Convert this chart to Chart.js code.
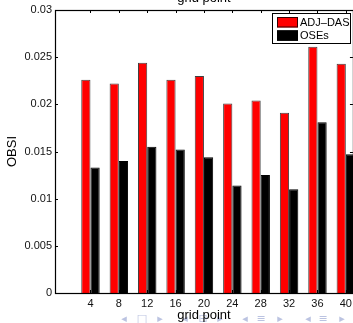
<!DOCTYPE html>
<html>
<head>
<meta charset="utf-8">
<script src="https://cdn.jsdelivr.net/npm/chart.js@4.4.0/dist/chart.umd.min.js"></script>
<style>
  html, body { margin: 0; padding: 0; background: #fff; overflow: hidden; width: 353px; height: 323px; }
  canvas { display: block; }
</style>
</head>
<body>
<canvas id="c" width="356" height="323"></canvas>
<script>
// Observation sensitivity impact per grid point
const gridPoints = [4, 8, 12, 16, 20, 24, 28, 32, 36, 40];
const adjDas = [0.0226, 0.0222, 0.0244, 0.0226, 0.0230, 0.0201, 0.0204, 0.0191, 0.0261, 0.0243];
const oses   = [0.0133, 0.0140, 0.0155, 0.0152, 0.0144, 0.0114, 0.0125, 0.0110, 0.0181, 0.0147];
const yTicks = [0, 0.005, 0.01, 0.015, 0.02, 0.025, 0.03];
const yTickLabels = ['0', '0.005', '0.01', '0.015', '0.02', '0.025', '0.03'];
const seriesNames = ['ADJ–DAS', 'OSEs'];
const seriesColors = ['#ff0000', '#000000'];
const xTitle = 'grid point';
const yTitle = 'OBSI';

const FONT = '"Liberation Sans", Arial, Helvetica, sans-serif';

// Axes box with inward ticks, in-plot legend, top caption and slide navigation glyphs
const framePlugin = {
  id: 'frame',
  beforeDraw(chart) {
    const ctx = chart.ctx;
    const a = chart.chartArea;
    ctx.save();
    // faint navigation glyphs along the bottom
    ctx.fillStyle = 'rgba(120,135,195,0.5)';
    ctx.font = '11px "DejaVu Sans", sans-serif';
    ctx.textAlign = 'center';
    ctx.textBaseline = 'middle';
    const nav = [
      ['◂', 124], ['□', 142], ['▸', 160],
      ['◂', 185], ['⊟', 203], ['▸', 220],
      ['◂', 245], ['≡', 261], ['▸', 280],
      ['◂', 308], ['≡', 323], ['▸', 342]
    ];
    nav.forEach(([g, x]) => ctx.fillText(g, x, 319));
    // caption above the axes (partly outside the page)
    ctx.fillStyle = '#000';
    ctx.font = '13px ' + FONT;
    ctx.textBaseline = 'alphabetic';
    ctx.fillText(xTitle, (a.left + a.right) / 2, 2);
    ctx.restore();
  },
  beforeDatasetsDraw(chart) {
    const ctx = chart.ctx;
    const a = chart.chartArea;
    const xs = chart.scales.x, ys = chart.scales.y;
    ctx.save();
    ctx.strokeStyle = '#000';
    ctx.lineWidth = 1;
    ctx.beginPath();
    const tl = 3;
    yTicks.forEach(v => {
      const y = Math.round(ys.getPixelForValue(v)) + 0.5;
      ctx.moveTo(a.left, y); ctx.lineTo(a.left + tl, y);
      ctx.moveTo(a.right, y); ctx.lineTo(a.right - tl, y);
    });
    gridPoints.forEach(v => {
      const x = Math.round(xs.getPixelForValue(v)) + 0.5;
      ctx.moveTo(x, a.top); ctx.lineTo(x, a.top + tl);
      ctx.moveTo(x, a.bottom); ctx.lineTo(x, a.bottom - tl);
    });
    ctx.stroke();
    ctx.restore();
  },
  afterDatasetsDraw(chart) {
    const ctx = chart.ctx;
    const a = chart.chartArea;
    ctx.save();
    ctx.strokeStyle = '#000';
    ctx.lineWidth = 1.2;
    ctx.strokeRect(a.left + 0.5, a.top + 0.5, a.right - a.left, a.bottom - a.top);
    ctx.restore();
  },
  afterDraw(chart) {
    const ctx = chart.ctx;
    const ds = chart.data.datasets;
    ctx.save();
    const bx = 272.5, by = 13.5, bw = 78, bh = 30;
    ctx.fillStyle = '#fff';
    ctx.fillRect(bx, by, bw, bh);
    ctx.strokeStyle = '#000';
    ctx.lineWidth = 1;
    ctx.strokeRect(bx, by, bw, bh);
    ctx.font = '11px ' + FONT;
    ctx.textAlign = 'left';
    ctx.textBaseline = 'middle';
    ds.forEach((d, i) => {
      const y = 17 + i * 13.3;
      ctx.fillStyle = d.backgroundColor;
      ctx.fillRect(277, y, 21, 10.5);
      ctx.strokeStyle = 'rgba(0,0,0,0.8)';
      ctx.strokeRect(277.5, y + 0.5, 20, 9.5);
      ctx.fillStyle = '#000';
      ctx.fillText(d.label, 300, y + 5.5);
    });
    ctx.restore();
  }
};

new Chart(document.getElementById('c').getContext('2d'), {
  type: 'bar',
  data: {
    datasets: [
      {
        label: seriesNames[0],
        data: gridPoints.map((g, i) => ({ x: g, y: adjDas[i] })),
        backgroundColor: seriesColors[0],
        borderColor: 'rgba(0,0,0,0.75)',
        borderWidth: 1
      },
      {
        label: seriesNames[1],
        data: gridPoints.map((g, i) => ({ x: g, y: oses[i] })),
        backgroundColor: seriesColors[1],
        borderColor: '#000',
        borderWidth: 1
      }
    ]
  },
  options: {
    responsive: false,
    animation: false,
    devicePixelRatio: 1,
    categoryPercentage: 0.65,
    barPercentage: 1,
    layout: { padding: { left: 0, top: 10, right: 2, bottom: 0 } },
    plugins: { legend: { display: false }, tooltip: { enabled: false } },
    scales: {
      x: {
        type: 'linear',
        min: -1,
        max: 41,
        offset: false,
        afterBuildTicks: axis => { axis.ticks = gridPoints.map(v => ({ value: v })); },
        afterFit: axis => { axis.height = 30; },
        grid: { display: false, drawTicks: false },
        border: { display: false },
        ticks: {
          font: { family: FONT, size: 11 },
          color: '#111',
          padding: 4,
          maxRotation: 0,
          autoSkip: false,
          callback: v => String(v)
        },
        title: {
          display: true,
          text: xTitle,
          font: { family: FONT, size: 13 },
          color: '#000',
          padding: { top: 0, bottom: 0 }
        }
      },
      y: {
        min: 0,
        max: 0.03,
        afterBuildTicks: axis => { axis.ticks = yTicks.map(v => ({ value: v })); },
        afterFit: axis => { axis.width = 55; },
        grid: { display: false, drawTicks: false },
        border: { display: false },
        ticks: {
          font: { family: FONT, size: 11 },
          color: '#111',
          padding: 3,
          callback: (v, i) => yTickLabels[i]
        },
        title: {
          display: true,
          text: yTitle,
          font: { family: FONT, size: 13 },
          color: '#000',
          padding: { top: 5, bottom: 0 }
        }
      }
    }
  },
  plugins: [framePlugin]
});
</script>
</body>
</html>
